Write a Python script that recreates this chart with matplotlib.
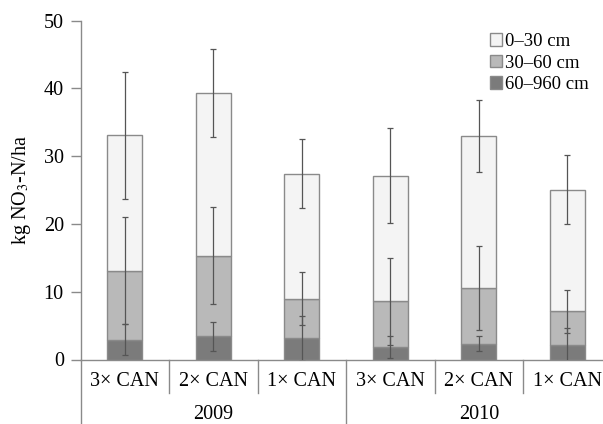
import numpy as np
import matplotlib
matplotlib.use('Agg')
from matplotlib import pyplot as plt
from matplotlib.patches import Patch

plt.rcParams['font.family'] = ['Liberation Serif', 'DejaVu Serif']
plt.rcParams['mathtext.fontset'] = 'stix'

# data
categories = ['3× CAN', '2× CAN', '1× CAN', '3× CAN', '2× CAN', '1× CAN']
years = ['2009', '2010']
layer_labels = ['0–30 cm', '30–60 cm', '60–960 cm']

deep_60_960 = [2.9, 3.4, 3.1, 1.8, 2.35, 2.1]
mid_30_60 = [10.2, 11.9, 5.85, 6.8, 8.25, 5.0]
top_0_30 = [20.0, 24.05, 18.45, 18.5, 22.35, 17.95]

err_deep = [2.3, 2.1, 3.3, 1.6, 1.1, 2.6]
err_mid = [7.9, 7.15, 3.9, 6.45, 6.2, 3.15]
err_top = [9.4, 6.5, 5.1, 7.0, 5.3, 5.1]

colors = ['#f4f4f4', '#b9b9b9', '#7b7b7b']
edge = '#8a8a8a'
ecol = '#555555'

fig = plt.figure(figsize=(6.03, 4.24), dpi=100)
ax = fig.add_axes([80.5 / 603, 64.5 / 424, 6 * 88.5 / 603, 338.8 / 424])

x = np.arange(len(categories))
w = 0.4
deep = np.array(deep_60_960)
mid = np.array(mid_30_60)
top = np.array(top_0_30)

ax.bar(x, deep, w, color=colors[2], edgecolor=edge, linewidth=1, zorder=2)
ax.bar(x, mid, w, bottom=deep, color=colors[1], edgecolor=edge, linewidth=1, zorder=2)
ax.bar(x, top, w, bottom=deep + mid, color=colors[0], edgecolor=edge, linewidth=1, zorder=2)

ebkw = dict(fmt='none', ecolor=ecol, elinewidth=0.9, capsize=2.5, capthick=0.9, zorder=3)
ax.errorbar(x, deep, yerr=err_deep, **ebkw)
ax.errorbar(x, deep + mid, yerr=err_mid, **ebkw)
ax.errorbar(x, deep + mid + top, yerr=err_top, **ebkw)

ax.set_xlim(-0.5, len(categories) - 0.5)
ax.set_ylim(0, 50)
ax.set_yticks(range(0, 51, 10))
ax.tick_params(axis='y', labelsize=14.5, length=7, width=1, color=edge, pad=5)
ax.set_xticks(x)
ax.set_xticklabels(categories, fontsize=14.5)
ax.tick_params(axis='x', length=0, pad=9)

for s in ['top', 'right']:
    ax.spines[s].set_visible(False)
for s in ['left', 'bottom']:
    ax.spines[s].set_color(edge)
    ax.spines[s].set_linewidth(1)

ax.set_ylabel('kg NO$_3$-N/ha', fontsize=14.5, labelpad=8)

# category separators below the axis
tr = ax.get_xaxis_transform()
for i in range(1, len(categories)):
    low = -0.19 if i == 3 else -0.099
    ax.plot([i - 0.5, i - 0.5], [0, low], transform=tr, color=edge, lw=1, clip_on=False)
ax.plot([-0.5, -0.5], [0, -0.19], transform=tr, color=edge, lw=1, clip_on=False)

for j, yr in enumerate(years):
    ax.text(3 * j + 1, -0.162, yr, transform=tr, ha='center', va='center', fontsize=14.5)

handles = [Patch(facecolor=c, edgecolor=edge, linewidth=1) for c in colors]
fig.legend(handles, layer_labels, loc='upper left', bbox_to_anchor=(490 / 603, 1 - 33 / 424),
           frameon=False, fontsize=13.5, handlelength=0.65, handleheight=0.65,
           handletextpad=0.15, labelspacing=0.24, borderpad=0, borderaxespad=0)

fig.savefig('out.png', dpi=100, facecolor='white')
